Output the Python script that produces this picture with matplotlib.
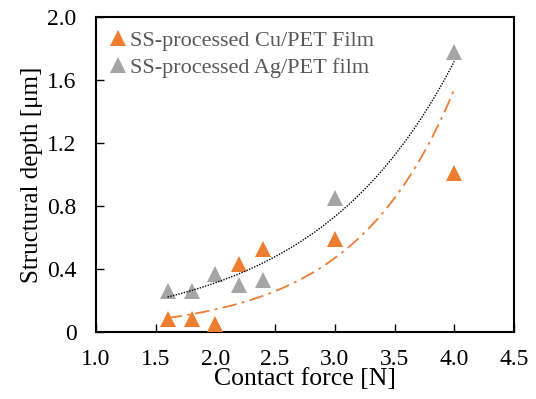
import numpy as np
import matplotlib
matplotlib.use("Agg")
import matplotlib.pyplot as plt

plt.rcParams['font.family'] = ['Liberation Serif', 'DejaVu Serif']

force = [1.6, 1.8, 2.0, 2.2, 2.4, 3.0, 4.0]
cu_depth = [0.08, 0.08, 0.05, 0.43, 0.53, 0.59, 1.01]
ag_depth = [0.26, 0.26, 0.37, 0.30, 0.33, 0.85, 1.78]
cu_label = "SS-processed Cu/PET Film"
ag_label = "SS-processed Ag/PET film"
xticks = [1.0, 1.5, 2.0, 2.5, 3.0, 3.5, 4.0, 4.5]
yticks = [0, 0.4, 0.8, 1.2, 1.6, 2.0]
ytick_labels = ["0", "0.4", "0.8", "1.2", "1.6", "2.0"]

orange = "#ED7D31"
gray = "#A5A5A5"

fig = plt.figure(figsize=(5.36, 3.99), dpi=100)
ax = fig.add_axes([0.179, 0.168, 0.780, 0.789])

ax.plot(force, cu_depth, linestyle='none', marker='^', markersize=11,
        color=orange, markeredgewidth=0, label=cu_label, zorder=3, clip_on=False)
ax.plot(force, ag_depth, linestyle='none', marker='^', markersize=11,
        color=gray, markeredgewidth=0, label=ag_label, zorder=3, clip_on=False)

# Exponential trendlines (least squares on ln y, as Excel does)
xf = np.linspace(min(force), max(force), 200)
for ys, col, ls, lw in [(ag_depth, 'black', (0, (1, 1)), 1.0),
                        (cu_depth, orange, (0, (8, 3, 1.5, 3)), 1.3)]:
    b, ln_a = np.polyfit(force, np.log(ys), 1)
    ax.plot(xf, np.exp(ln_a) * np.exp(b * xf), color=col, linestyle=ls,
            linewidth=lw, zorder=4)

ax.set_xlim(1.0, 4.5)
ax.set_ylim(0, 2.0)
ax.set_xticks(xticks)
ax.set_xticklabels([f"{t:.1f}" for t in xticks])
ax.set_yticks(yticks)
ax.set_yticklabels(ytick_labels)
ax.tick_params(direction='in', length=6, width=1, labelsize=17, colors='black')
ax.tick_params(axis='x', pad=12)
ax.tick_params(axis='y', pad=14)
for s in ax.spines.values():
    s.set_linewidth(1.5)
    s.set_color('black')

ax.set_xlabel("Contact force [N]", fontsize=18.5, labelpad=-1)
ax.set_ylabel("Structural depth [μm]", fontsize=18, labelpad=3)

leg = ax.legend(loc='upper left', frameon=False, fontsize=16, handletextpad=-0.1,
                borderaxespad=0.2, labelspacing=0.3, handlelength=1.2,
                bbox_to_anchor=(-0.01, 1.0))
for t in leg.get_texts():
    t.set_color('#595959')

fig.savefig("out.png", dpi=100)
